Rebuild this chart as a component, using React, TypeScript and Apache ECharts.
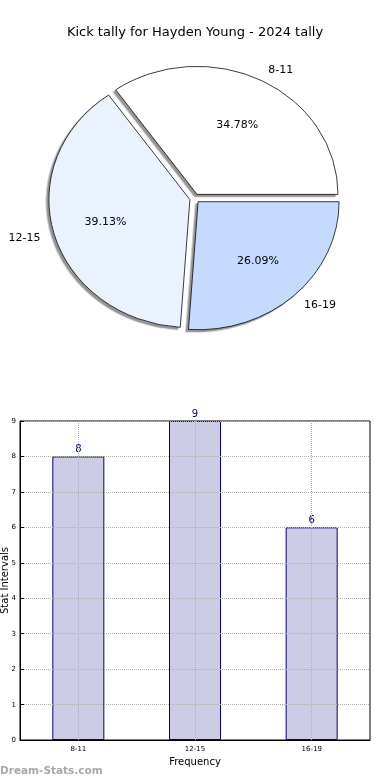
import React, { useEffect, useRef } from "react";
import * as echarts from "echarts";

const titleText = "Kick tally for Hayden Young - 2024 tally";
const categories = ["8-11", "12-15", "16-19"];
const counts = [8, 9, 6];
const pieColors = ["#ffffff", "#eaf1ff", "#c6daff"];
const yMin = 0;
const yMax = 9;
const yInterval = 1;
const xName = "Frequency";
const yName = "Stat Intervals";
const watermark = "Dream-Stats.com";

const FONT = "DejaVu Sans";
const PIE_SCALE_Y = 0.908;
const PIE_R = 141;
const PIE_CX = 194.7;
const PIE_CY = 198.4 / PIE_SCALE_Y;

export default function App() {
  const mainRef = useRef<HTMLDivElement>(null);
  const pieRef = useRef<HTMLDivElement>(null);

  useEffect(() => {
    document.body.style.margin = "0";
    const main = echarts.init(mainRef.current!, null, { renderer: "svg" });
    const pie = echarts.init(pieRef.current!, null, { renderer: "svg" });

    main.setOption({
      animation: false,
      textStyle: { fontFamily: FONT },
      title: {
        text: titleText,
        left: "center",
        top: 20,
        textStyle: { fontSize: 13, fontWeight: "normal", color: "#000", fontFamily: FONT },
      },
      grid: {
        left: 20,
        right: 20,
        top: 421,
        bottom: 40,
        show: true,
        borderColor: "#000",
        borderWidth: 1,
        backgroundColor: "transparent",
        containLabel: false,
        outerBoundsMode: "none",
      },
      xAxis: {
        type: "category",
        data: categories,
        z: 4,
        axisLine: { show: true, lineStyle: { color: "#000", width: 1 } },
        axisTick: { show: false },
        axisLabel: { fontSize: 7, color: "#000", margin: 5 },
        splitLine: { show: false },
        name: xName,
        nameLocation: "middle",
        nameGap: 16,
        nameMoveOverlap: false,
        nameTextStyle: { fontSize: 10, color: "#000" },
      },
      yAxis: {
        type: "value",
        min: yMin,
        max: yMax,
        interval: yInterval,
        z: 4,
        axisLine: { show: true, lineStyle: { color: "#000", width: 1 } },
        axisTick: { show: true, inside: true, length: 4, lineStyle: { color: "#000" } },
        axisLabel: { fontSize: 7, color: "#000", margin: 4 },
        splitLine: { show: true, lineStyle: { color: "#b0b0b0", type: "dotted", width: 1 } },
        name: yName,
        nameLocation: "middle",
        nameGap: 11,
        nameMoveOverlap: false,
        nameTextStyle: { fontSize: 10, color: "#000" },
      },
      series: [
        {
          type: "bar",
          data: counts,
          barWidth: 52,
          z: 2,
          itemStyle: { color: "#ccccE6", borderColor: "#000080", borderWidth: 1 },
          label: { show: true, position: "top", distance: 3, fontSize: 10, color: "#000080" },
          markLine: {
            silent: true,
            symbol: ["none", "none"],
            label: { show: false },
            lineStyle: { color: "#b0b0b0", type: "dotted", width: 1 },
            data: categories.map((c) => ({ xAxis: c })),
          },
        },
      ],
      graphic: [
        {
          type: "text",
          left: 0,
          top: 764,
          style: {
            text: watermark,
            fontSize: 10.5,
            fontWeight: "bold",
            fill: "#a8a8a8",
            fontFamily: FONT,
          },
        },
      ],
    });

    const total = counts.reduce((a, b) => a + b, 0);
    const pieData = categories.map((c, i) => ({
      name: c,
      value: counts[i],
      selected: true,
      itemStyle: { color: pieColors[i] },
    }));

    pie.setOption({
      animation: false,
      textStyle: { fontFamily: FONT },
      series: [
        {
          type: "pie",
          center: [PIE_CX, PIE_CY],
          radius: PIE_R,
          startAngle: 0,
          clockwise: false,
          selectedMode: "multiple",
          selectedOffset: 5,
          avoidLabelOverlap: false,
          emphasis: { disabled: true },
          data: pieData,
          itemStyle: {
            borderColor: "#000",
            borderWidth: 0.8,
            shadowBlur: 0,
            shadowOffsetX: -2.5,
            shadowOffsetY: 2.5,
            shadowColor: "rgba(0,0,0,0.42)",
          },
          label: {
            show: true,
            position: "outside",
            formatter: "{b}",
            fontSize: 11,
            color: "#000",
            alignTo: "none",
            distanceToLabelLine: 0,
          },
          labelLine: { show: false, length: PIE_R * 0.1, length2: 0 },
        },
        {
          type: "pie",
          center: [PIE_CX, PIE_CY],
          radius: PIE_R * 1.2,
          startAngle: 0,
          clockwise: false,
          selectedMode: "multiple",
          selectedOffset: 5,
          silent: true,
          emphasis: { disabled: true },
          data: categories.map((c, i) => ({ name: c, value: counts[i], selected: true })),
          itemStyle: { color: "rgba(0,0,0,0)", borderWidth: 0 },
          label: {
            show: true,
            position: "inside",
            fontSize: 11,
            color: "#000",
            formatter: (p: any) => ((p.value / total) * 100).toFixed(2) + "%",
          },
          labelLine: { show: false },
        },
      ],
    });

    return () => {
      main.dispose();
      pie.dispose();
    };
  }, []);

  return (
    <div style={{ position: "fixed", left: 0, top: 0, width: 390, height: 780 }}>
      <div ref={mainRef} style={{ position: "absolute", left: 0, top: 0, width: 390, height: 780 }} />
      <div
        ref={pieRef}
        style={{
          position: "absolute",
          left: 0,
          top: 0,
          width: 390,
          height: 420,
          transform: `scaleY(${PIE_SCALE_Y})`,
          transformOrigin: "0 0",
        }}
      />
    </div>
  );
}
